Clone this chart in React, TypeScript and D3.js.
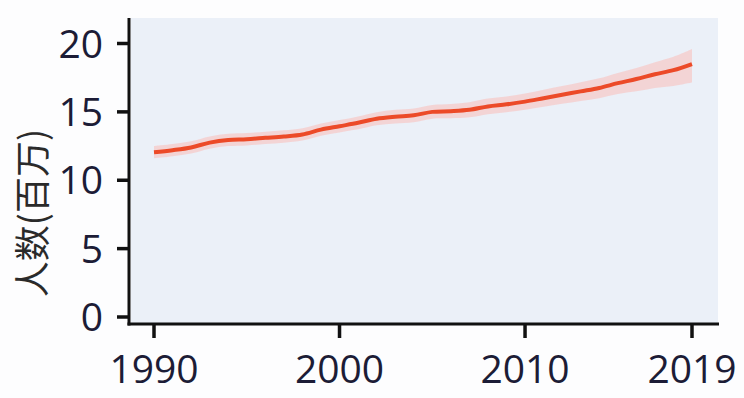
import React from "react";
import * as d3 from "d3";

const years = [1990,1991,1992,1993,1994,1995,1996,1997,1998,1999,2000,2001,2002,2003,2004,2005,2006,2007,2008,2009,2010,2011,2012,2013,2014,2015,2016,2017,2018,2019];
const values = [12.05,12.2,12.4,12.75,12.95,13.0,13.1,13.2,13.35,13.7,13.95,14.2,14.5,14.65,14.75,15.0,15.05,15.15,15.4,15.55,15.75,16.0,16.25,16.5,16.75,17.1,17.4,17.75,18.05,18.5];
const lowerHalf = [0.45,0.45,0.45,0.45,0.45,0.45,0.45,0.45,0.45,0.45,0.45,0.47,0.48,0.5,0.5,0.5,0.52,0.55,0.57,0.58,0.6,0.63,0.66,0.7,0.75,0.8,0.9,1.0,1.15,1.35];
const upperHalf = [0.45,0.45,0.45,0.45,0.45,0.45,0.45,0.45,0.45,0.45,0.45,0.47,0.48,0.5,0.5,0.5,0.52,0.55,0.57,0.58,0.6,0.62,0.64,0.67,0.7,0.75,0.8,0.88,0.98,1.1];
const yTicks = [0, 5, 10, 15, 20];
const xTicks = [1990, 2000, 2010, 2019];
const yLabel = "人数(百万)";

export default function App() {
  const x = d3.scaleLinear().domain([1990, 2019]).range([154, 692]);
  const y = d3.scaleLinear().domain([0, 20]).range([317, 43.5]);
  const data = years.map((yr, i) => ({ yr, v: values[i], lo: values[i] - lowerHalf[i], hi: values[i] + upperHalf[i] }));
  const line = d3.line<any>().x(d => x(d.yr)).y(d => y(d.v)).curve(d3.curveCatmullRom.alpha(0.5));
  const area = d3.area<any>().x(d => x(d.yr)).y0(d => y(d.lo)).y1(d => y(d.hi)).curve(d3.curveCatmullRom.alpha(0.5));
  const axisX = 129;
  const axisY = 324;
  const textColor = "#1c1c36";
  const font = "'Open Sans', sans-serif";
  return (
    <svg width={744} height={398} style={{ position: "absolute", left: 0, top: 0, background: "#fdfdfe" }}>
      <rect x={131} y={18} width={587} height={305} fill="#ebf0f8" />
      <path d={area(data) || ""} fill="#f5cfcf" opacity={0.85} />
      <path d={line(data) || ""} fill="none" stroke="#ec4a28" strokeWidth={4} strokeLinecap="butt" />
      <line x1={axisX} x2={axisX} y1={18} y2={axisY + 1.5} stroke="#111" strokeWidth={3} />
      <line x1={axisX - 1.5} x2={719} y1={axisY} y2={axisY} stroke="#111" strokeWidth={3} />
      {yTicks.map(t => (
        <g key={"y" + t}>
          <line x1={117} x2={axisX} y1={y(t)} y2={y(t)} stroke="#111" strokeWidth={3.5} />
          <text x={103} y={y(t)} dy="0.36em" textAnchor="end" fontFamily={font} fontSize={39} fill={textColor}>{t}</text>
        </g>
      ))}
      {xTicks.map(t => (
        <g key={"x" + t}>
          <line x1={x(t)} x2={x(t)} y1={axisY} y2={338} stroke="#111" strokeWidth={3.5} />
          <text x={x(t)} y={383} textAnchor="middle" fontFamily={font} fontSize={39} fill={textColor}>{t}</text>
        </g>
      ))}
      <text transform={`translate(46,213) rotate(-90)`} textAnchor="middle" fontFamily="'Noto Sans CJK SC', sans-serif" fontSize={36} fill="#2a2a2a">{yLabel}</text>
    </svg>
  );
}
